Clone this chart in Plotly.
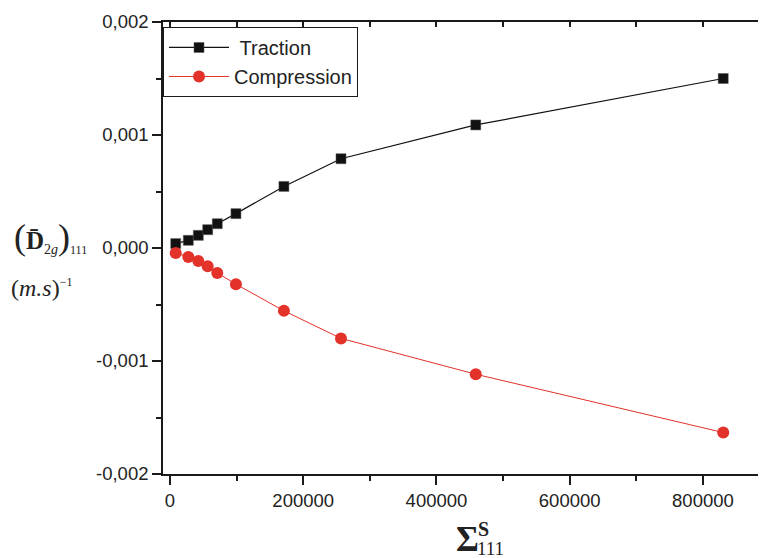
import plotly.graph_objects as go

# ---- data ----
sigma = [8600, 27500, 42500, 56600, 71000, 99000, 171000, 256700, 459000, 830500]
traction = [0.000039, 0.000068, 0.000112, 0.000162, 0.000215, 0.000304,
            0.000545, 0.00079, 0.001089, 0.0015]
compression = [-0.000044, -0.000079, -0.000115, -0.000162, -0.000221, -0.00032,
               -0.000556, -0.0008, -0.001117, -0.001633]

x_tickvals = [0, 200000, 400000, 600000, 800000]
x_ticktext = ["0", "200000", "400000", "600000", "800000"]
y_tickvals = [-0.002, -0.001, 0.0, 0.001, 0.002]
y_ticktext = ["-0,002", "-0,001", "0,000", "0,001", "0,002"]

X_RANGE = [-10500, 894700]
Y_RANGE = [-0.002, 0.002]

AX = "#1a1a1a"
SANS = "Liberation Sans, Arial, sans-serif"
TICKFONT = dict(family=SANS, size=18.5, color="#222222")
SERIF = "Liberation Serif, Times New Roman, serif"
TXT = "#222222"

fig = go.Figure()
fig.add_trace(go.Scatter(
    x=sigma, y=traction, name="\u00a0Traction", mode="lines+markers",
    line=dict(color="#111111", width=1.2),
    marker=dict(symbol="square", size=10, color="#111111",
                line=dict(color="#555555", width=0.5)),
))
fig.add_trace(go.Scatter(
    x=sigma, y=compression, name="Compression", mode="lines+markers",
    line=dict(color="#e2322a", width=1),
    marker=dict(symbol="circle", size=12, color="#e2322a"),
))
# helper (empty) trace so the top/right mirror axes are drawn
fig.add_trace(go.Scatter(x=[None], y=[None], xaxis="x2", yaxis="y2",
                         showlegend=False, hoverinfo="skip"))

# the page body has an 8px margin, so the figure is 8px smaller than the window
fig.update_layout(
    width=758, height=550,
    margin=dict(l=155, r=0, t=14, b=84),
    paper_bgcolor="white", plot_bgcolor="white",
    showlegend=True,
    legend=dict(x=0, y=0.989, xanchor="left", yanchor="top",
                bgcolor="white", bordercolor=AX, borderwidth=1,
                font=dict(family=SANS, size=20, color=TXT),
                itemwidth=60, tracegroupgap=0),
    xaxis=dict(range=X_RANGE, showline=True, linecolor=AX, linewidth=1.6,
               showgrid=False, zeroline=False,
               tickmode="array", tickvals=x_tickvals, ticktext=x_ticktext,
               ticks="outside", ticklen=9, tickwidth=1.5, tickcolor=AX,
               tickfont=TICKFONT,
               minor=dict(tick0=0, dtick=100000, ticks="outside", ticklen=5,
                          tickwidth=1.5, tickcolor=AX)),
    yaxis=dict(range=Y_RANGE, showline=True, linecolor=AX, linewidth=1.6,
               showgrid=False, zeroline=False,
               tickmode="array", tickvals=y_tickvals, ticktext=y_ticktext,
               ticks="outside", ticklen=9, tickwidth=1.5, tickcolor=AX,
               tickfont=TICKFONT,
               minor=dict(tick0=0, dtick=0.0005, ticks="outside", ticklen=5,
                          tickwidth=1.5, tickcolor=AX)),
    xaxis2=dict(range=X_RANGE, overlaying="x", side="top", anchor="y",
                showline=True, linecolor=AX, linewidth=1.6,
                showgrid=False, zeroline=False, showticklabels=False,
                tickmode="array", tickvals=x_tickvals,
                ticks="inside", ticklen=5, tickwidth=1.5, tickcolor=AX,
                minor=dict(tick0=0, dtick=100000, ticks="inside", ticklen=5,
                           tickwidth=1.5, tickcolor=AX)),
    yaxis2=dict(range=Y_RANGE, overlaying="y", side="right", anchor="x",
                showline=False,
                showgrid=False, zeroline=False, showticklabels=False,
                tickmode="array", tickvals=y_tickvals,
                ticks="inside", ticklen=6, tickwidth=1.5, tickcolor=AX,
                minor=dict(tick0=0, dtick=0.0005, ticks="inside", ticklen=2,
                           tickwidth=1.5, tickcolor=AX)),
)

# y-axis label (two lines)
fig.add_annotation(
    xref="paper", yref="paper", x=-0.250, y=0.524, xanchor="left", yanchor="middle",
    showarrow=False,
    text=('<span style="font-size:36px">(</span><b>D\u0304</b>'
          '<sub><span style="font-size:14px">2<i>g</i></span></sub>'
          '<span style="font-size:36px">)</span>'
          '<sub><span style="font-size:12px">111</span></sub>'),
    font=dict(family=SERIF, size=25, color=TXT),
)
fig.add_annotation(
    xref="paper", yref="paper", x=-0.255, y=0.412, xanchor="left", yanchor="middle",
    showarrow=False,
    text='(<i>m.s</i>)<sup><span style="font-size:12px">\u22121</span></sup>',
    font=dict(family=SERIF, size=24, color=TXT),
)
# x-axis label: Sigma with stacked superscript S and subscript 111
fig.add_annotation(
    xref="paper", yref="paper", x=0.4826, y=-0.146, xanchor="left", yanchor="middle",
    showarrow=False, text="<b>\u03a3</b>",
    font=dict(family=SERIF, size=35, color=TXT),
)
fig.add_annotation(
    xref="paper", yref="paper", x=0.5185, y=-0.122, xanchor="left", yanchor="middle",
    showarrow=False, text="<b>S</b>",
    font=dict(family=SERIF, size=20, color=TXT),
)
fig.add_annotation(
    xref="paper", yref="paper", x=0.5170, y=-0.165, xanchor="left", yanchor="middle",
    showarrow=False, text="111",
    font=dict(family=SERIF, size=19, color=TXT),
)

fig.write_html("out.html")
